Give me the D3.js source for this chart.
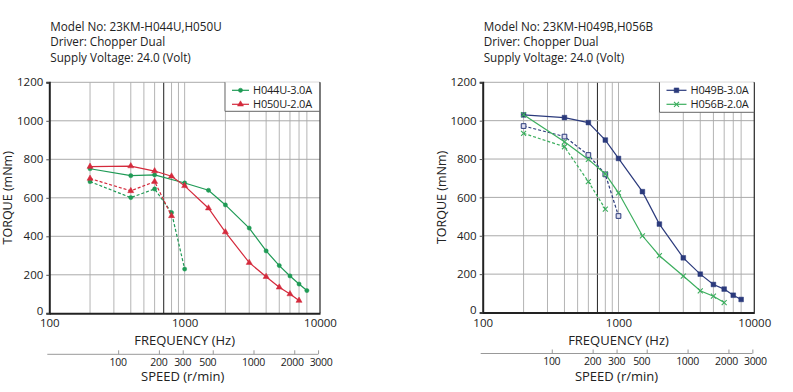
<!DOCTYPE html>
<html><head><meta charset="utf-8">
<script src="https://cdn.jsdelivr.net/npm/d3@7"></script>
<style>
body{margin:0;background:#fff;}
svg{display:block;font-family:"Open Sans","Noto Sans",sans-serif;}
</style></head>
<body>
<svg id="c" width="793" height="392"></svg>
<script>
// ---------- data ----------
const gridFreqs = [200,300,400,500,600,700,800,900,1000,2000,3000,4000,5000,6000,7000,8000];
const torqueTicks = [0,200,400,600,800,1000,1200];
const freqTicks = [100,1000,10000];
const speedTicks = [100,200,300,500,1000,2000,3000];

const titlesL = ["Model No: 23KM-H044U,H050U","Driver: Chopper Dual","Supply Voltage: 24.0 (Volt)"];
const titlesR = ["Model No: 23KM-H049B,H056B","Driver: Chopper Dual","Supply Voltage: 24.0 (Volt)"];

// left chart
const h044uFreq = [200,400,600,1000,1500,2000,3000,4000,5000,6000,7000,8000];
const h044uTorque = [751,715,719,677,639,563,443,324,248,194,152,118];
const h044uPullFreq = [200,400,600,800,1000];
const h044uPullTorque = [684,601,646,523,230];
const h050uFreq = [200,400,600,800,1000,1500,2000,3000,4000,5000,6000,7000];
const h050uTorque = [762,765,739,712,662,546,422,263,190,135,100,66];
const h050uPullFreq = [200,400,600,800];
const h050uPullTorque = [700,636,684,506];

// right chart
const h049bFreq = [200,400,600,800,1000,1500,2000,3000,4000,5000,6000,7000,8000];
const h049bTorque = [1030,1016,990,899,803,630,461,285,200,146,122,90,68];
const h049bPullFreq = [200,400,600,800,1000];
const h049bPullTorque = [972,917,821,720,503];
const h056bFreq = [200,400,600,800,1000,1500,2000,3000,4000,5000,6000];
const h056bTorque = [1031,890,798,722,624,400,296,190,113,85,52];
const h056bPullFreq = [200,400,600,800];
const h056bPullTorque = [934,864,682,539];

const speedPerHz = 0.31; // r/min per Hz

const GREEN1 = "#1e9a55", RED = "#d42a3c", NAVY = "#2b3a7c", GREEN2 = "#3cae5e";

const svg = d3.select("#c");

function panel(opt){
  const g = svg.append("g");
  const x = d3.scaleLog().domain([100,10000]).range([opt.x0, opt.x1]);
  const y = d3.scaleLinear().domain([0,1200]).range([opt.yb, opt.yt]);

  // titles
  g.selectAll("text.title").data(opt.titles).join("text")
    .attr("x", opt.x0 + 1).attr("y", (d,i)=>31 + i*15.4)
    .attr("font-size", 11.7).attr("fill", "#222").text(d=>d);

  // grid
  g.selectAll("line.vg").data(gridFreqs).join("line")
    .attr("x1", d=>x(d)).attr("x2", d=>x(d)).attr("y1", opt.yt).attr("y2", opt.yb)
    .attr("stroke", d=> d===700 ? "#333" : "#b4b4b4").attr("stroke-width", d=> d===700 ? 1.1 : 1);
  g.selectAll("line.hg").data(torqueTicks.filter(t=>t>0)).join("line")
    .attr("x1", opt.x0).attr("x2", opt.x1).attr("y1", d=>y(d)).attr("y2", d=>y(d))
    .attr("stroke", "#aaa").attr("stroke-width", 1);
  // right border
  g.append("line").attr("x1", opt.x1).attr("x2", opt.x1).attr("y1", opt.yt).attr("y2", opt.yb)
    .attr("stroke", "#333").attr("stroke-width", 1.3);

  // axes
  const ya = g.append("g").attr("transform", `translate(${opt.x0},0)`)
    .call(d3.axisLeft(y).tickValues(torqueTicks).tickFormat(d3.format("d")).tickSize(3).tickPadding(3));
  ya.select(".domain").attr("stroke", "#222").attr("stroke-width", 2);
  ya.selectAll(".tick line").attr("stroke", "#555");
  ya.selectAll("text").attr("font-size", 11.5).attr("fill", "#222").attr("font-family", "Open Sans, sans-serif");
  ya.selectAll(".tick").filter(d=>d===0).select("text").attr("dy", "0.1em");

  const xa = g.append("g").attr("transform", `translate(0,${opt.yb})`)
    .call(d3.axisBottom(x).tickValues(freqTicks).tickFormat(d3.format("d")).tickSize(0).tickPadding(6));
  xa.select(".domain").attr("stroke", "#222").attr("stroke-width", 2);
  xa.selectAll("text").attr("font-size", 11.5).attr("fill", "#222").attr("font-family", "Open Sans, sans-serif");

  g.append("text").attr("x", (opt.x0+opt.x1)/2).attr("y", opt.yb + 32)
    .attr("text-anchor", "middle").attr("font-size", 13).attr("fill", "#222").text("FREQUENCY (Hz)");
  g.append("text").attr("transform", `translate(${opt.x0-37},${(opt.yt+opt.yb)/2}) rotate(-90)`)
    .attr("text-anchor", "middle").attr("font-size", 12.5).attr("fill", "#222").text("TORQUE (mNm)");

  // speed axis
  const s = d3.scaleLog().domain([100*speedPerHz, 10000*speedPerHz]).range([opt.x0, opt.x1]);
  const sy = opt.yb + 41;
  const sa = g.append("g").attr("transform", `translate(0,${sy})`)
    .call(d3.axisTop(s).tickValues(speedTicks).tickSize(4).tickFormat(""));
  sa.select(".domain").attr("d", `M${opt.x0-2},0H${s(3000)}`).attr("stroke", "#999").attr("stroke-width", 1);
  sa.selectAll(".tick line").attr("stroke", "#999");
  const labelShift = {500: -5, 2000: -2, 3000: 3};
  g.selectAll("text.sp").data(speedTicks).join("text")
    .attr("x", d=>s(d) + (labelShift[d] || 0)).attr("y", sy + 11.5).attr("text-anchor", "middle")
    .attr("font-size", 10.5).attr("letter-spacing", "-0.3").attr("fill", "#222").text(d=>d);
  g.append("text").attr("x", (opt.x0+opt.x1)/2 - 2).attr("y", sy + 27)
    .attr("text-anchor", "middle").attr("font-size", 13).attr("fill", "#222").text("SPEED (r/min)");

  // series
  const line = d3.line().x(d=>x(d[0])).y(d=>y(d[1]));
  opt.series.forEach(se=>{
    const pts = d3.zip(se.f, se.t);
    g.append("path").attr("d", line(pts)).attr("fill", "none").attr("stroke", se.color)
      .attr("stroke-width", 1.2).attr("stroke-dasharray", se.dash ? "3,2" : null);
    g.selectAll(null).data(pts).join("path")
      .attr("transform", d=>`translate(${x(d[0])},${y(d[1])})`)
      .attr("d", marker(se.marker))
      .attr("fill", se.marker==="x" ? "none" : (se.hollow ? "#dde" : se.color))
      .attr("stroke", se.color).attr("stroke-width", se.marker==="x" ? 1.1 : (se.hollow?1:0.5));
  });

  // legend
  const lg = g.append("g");
  lg.append("rect").attr("x", opt.lx).attr("y", opt.yt).attr("width", opt.x1 - opt.lx - 1).attr("height", opt.lh)
    .attr("fill", "#fff");
  lg.append("path").attr("d", `M${opt.lx},${opt.yt}V${opt.yt+opt.lh}H${opt.x1}`).attr("fill", "none")
    .attr("stroke", "#666").attr("stroke-width", 1);
  opt.legend.forEach((le,i)=>{
    const ly = opt.yt + 8 + i*14;
    lg.append("line").attr("x1", opt.lx+7).attr("x2", opt.lx+opt.lw).attr("y1", ly).attr("y2", ly)
      .attr("stroke", le.color).attr("stroke-width", 1.2);
    lg.append("path").attr("transform", `translate(${opt.lx+7+(opt.lw-7)/2},${ly})`).attr("d", marker(le.marker))
      .attr("fill", le.marker==="x" ? "none" : le.color).attr("stroke", le.color).attr("stroke-width", le.marker==="x"?1.1:0.5);
    lg.append("text").attr("x", opt.lx+opt.lw+4).attr("y", ly+4).attr("font-size", 11)
      .attr("letter-spacing", "-0.2").attr("fill", "#222").text(le.name);
  });
}

function marker(kind){
  if (kind==="circle") return d3.symbol(d3.symbolCircle, 14)();
  if (kind==="triangle") return d3.symbol(d3.symbolTriangle, 16)();
  if (kind==="square") return d3.symbol(d3.symbolSquare, 22)();
  if (kind==="x") return "M-2.5,-2.5L2.5,2.5M-2.5,2.5L2.5,-2.5";
}

panel({
  x0: 49.3, x1: 320, yt: 82.3, yb: 313.3, titles: titlesL,
  lx: 225, lh: 29, lw: 24,
  series: [
    {f: h044uFreq, t: h044uTorque, color: GREEN1, marker: "circle"},
    {f: h044uPullFreq, t: h044uPullTorque, color: GREEN1, marker: "circle", dash: true},
    {f: h050uFreq, t: h050uTorque, color: RED, marker: "triangle"},
    {f: h050uPullFreq, t: h050uPullTorque, color: RED, marker: "triangle", dash: true},
  ],
  legend: [
    {name: "H044U-3.0A", color: GREEN1, marker: "circle"},
    {name: "H050U-2.0A", color: RED, marker: "triangle"},
  ]
});
panel({
  x0: 482.7, x1: 754.3, yt: 82.3, yb: 312.5, titles: titlesR,
  lx: 659.5, lh: 30, lw: 27,
  series: [
    {f: h049bFreq, t: h049bTorque, color: NAVY, marker: "square"},
    {f: h049bPullFreq, t: h049bPullTorque, color: NAVY, marker: "square", dash: true, hollow: true},
    {f: h056bFreq, t: h056bTorque, color: GREEN2, marker: "x"},
    {f: h056bPullFreq, t: h056bPullTorque, color: GREEN2, marker: "x", dash: true},
  ],
  legend: [
    {name: "H049B-3.0A", color: NAVY, marker: "square"},
    {name: "H056B-2.0A", color: GREEN2, marker: "x"},
  ]
});
</script>
</body></html>
